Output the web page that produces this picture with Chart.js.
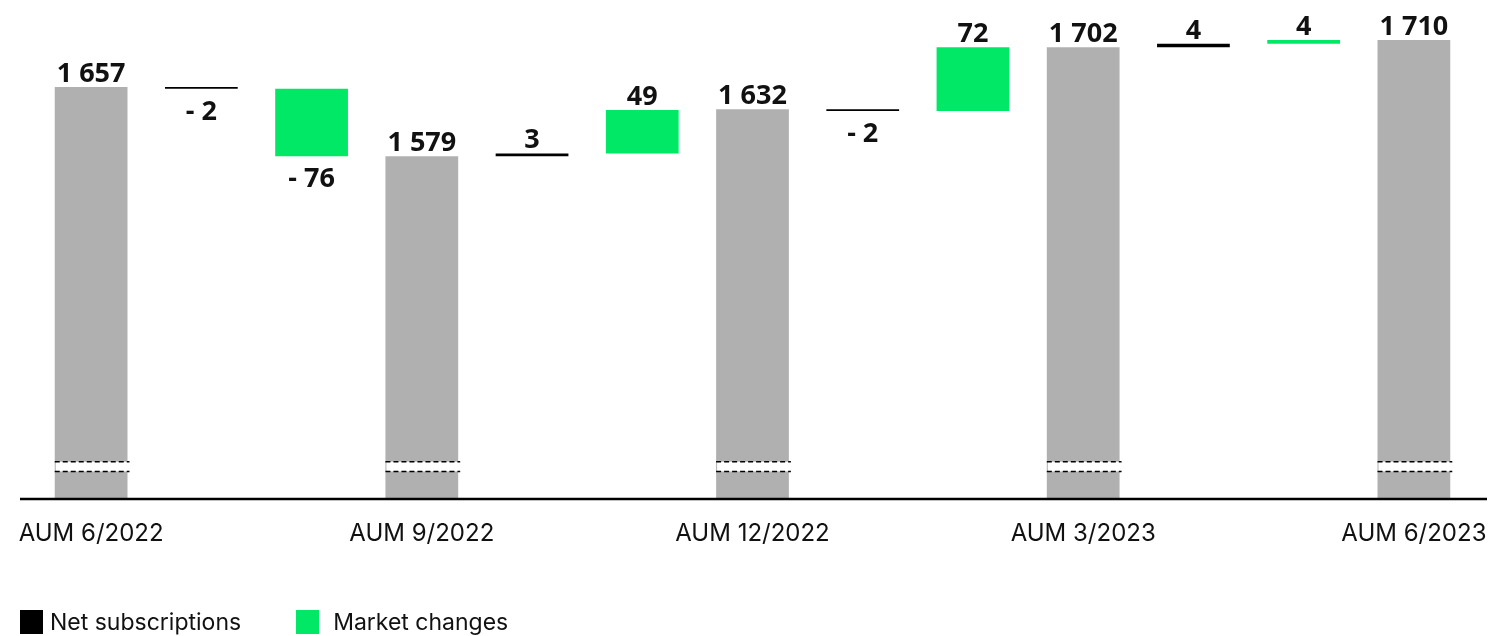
<!DOCTYPE html>
<html>
<head>
<meta charset="utf-8">
<script src="https://cdn.jsdelivr.net/npm/chart.js@4.4.1/dist/chart.umd.min.js"></script>
<style>
  html, body { margin: 0; padding: 0; background: #fff; }
  #wrap { position: relative; width: 1494px; height: 636px; }
  .legend { position: absolute; left: 20px; top: 608px; display: flex; font-family: Inter, sans-serif; font-size: 23px; color: #111; }
  .legend span { display: inline-flex; align-items: center; }
  .legend i { display: inline-block; width: 23px; height: 24px; }
</style>
</head>
<body>
<div id="wrap">
  <canvas id="aumChart" width="1494" height="636"></canvas>
  <div class="legend">
    <span style="margin-right:55px"><i style="background:#000;margin-right:7px"></i>Net subscriptions</span>
    <span><i style="background:#00e865;margin-right:14px"></i>Market changes</span>
  </div>
</div>
<script>
const categories = [
  'AUM 6/2022', 'Net subscriptions', 'Market changes',
  'AUM 9/2022', 'Net subscriptions', 'Market changes',
  'AUM 12/2022', 'Net subscriptions', 'Market changes',
  'AUM 3/2023', 'Net subscriptions', 'Market changes',
  'AUM 6/2023'
];
const aum = [1657, null, null, 1579, null, null, 1632, null, null, 1702, null, null, 1710];
const netSubs = [null, -2, null, null, 3, null, null, -2, null, null, 4, null, null];
const marketChanges = [null, null, -76, null, null, 49, null, null, 72, null, null, 4, null];

const yMin = 1193;
const yMax = 1744;
const breakValues = [1223, 1234];

const GRAY = '#b0b0b0';
const GREEN = '#00e865';

// running total for the floating bars
let running = 0;
const subBars = [];
const mktBars = [];
categories.forEach((c, i) => {
  if (aum[i] !== null) running = aum[i];
  if (netSubs[i] !== null) {
    subBars.push([running, running + netSubs[i]]);
    running += netSubs[i];
  } else subBars.push(null);
  if (marketChanges[i] !== null) {
    mktBars.push([running, running + marketChanges[i]]);
    running += marketChanges[i];
  } else mktBars.push(null);
});

function fmt(n) {
  const s = Math.abs(n).toString().replace(/\B(?=(\d{3})+(?!\d))/g, ' ');
  return n < 0 ? '- ' + s : s;
}

const valueLabels = {
  id: 'valueLabels',
  afterDatasetsDraw(chart) {
    const ctx = chart.ctx;
    ctx.save();
    ctx.font = 'bold 27px "Open Sans", sans-serif';
    ctx.fillStyle = '#111';
    ctx.textAlign = 'center';
    ctx.textBaseline = 'alphabetic';
    const sources = [aum, netSubs, marketChanges];
    chart.data.datasets.forEach((ds, di) => {
      const meta = chart.getDatasetMeta(di);
      meta.data.forEach((bar, i) => {
        const v = sources[di][i];
        if (v === null || v === undefined) return;
        const top = Math.min(bar.y, bar.base);
        const bottom = Math.max(bar.y, bar.base);
        if (di === 0 || v >= 0) {
          ctx.fillText(fmt(v), bar.x, top - 5);
        } else {
          ctx.fillText(fmt(v), bar.x, bottom + 31);
        }
      });
    });
    ctx.restore();
  }
};

const axisBreak = {
  id: 'axisBreak',
  afterDatasetsDraw(chart) {
    const ctx = chart.ctx;
    const y = chart.scales.y;
    const y1 = y.getPixelForValue(breakValues[1]);
    const y2 = y.getPixelForValue(breakValues[0]);
    const meta = chart.getDatasetMeta(0);
    ctx.save();
    meta.data.forEach((bar, i) => {
      if (aum[i] === null) return;
      const left = bar.x - bar.width / 2;
      const right = bar.x + bar.width / 2 + 2;
      ctx.fillStyle = '#fff';
      ctx.fillRect(left + 1, y1, right - left - 1, y2 - y1);
      ctx.strokeStyle = '#000';
      ctx.lineWidth = 1.5;
      ctx.setLineDash([5, 3]);
      [y1, y2].forEach(py => {
        ctx.beginPath();
        ctx.moveTo(left, py);
        ctx.lineTo(right, py);
        ctx.stroke();
      });
    });
    ctx.restore();
  }
};

const baseline = {
  id: 'baseline',
  afterDraw(chart) {
    const ctx = chart.ctx;
    const a = chart.chartArea;
    ctx.save();
    ctx.strokeStyle = '#000';
    ctx.lineWidth = 2.5;
    ctx.beginPath();
    ctx.moveTo(a.left - 16, a.bottom + 1);
    ctx.lineTo(a.right + 18, a.bottom + 1);
    ctx.stroke();
    ctx.restore();
  }
};

const config = {
  type: 'bar',
  data: {
    labels: categories,
    datasets: [
      { label: 'AUM', data: aum, backgroundColor: GRAY, grouped: false },
      { label: 'Net subscriptions', data: subBars, backgroundColor: '#000', grouped: false },
      { label: 'Market changes', data: mktBars, backgroundColor: GREEN, grouped: false }
    ]
  },
  options: {
    responsive: false,
    animation: false,
    categoryPercentage: 1,
    barPercentage: 0.66,
    layout: { padding: { left: 36, right: 25, top: 10, bottom: 0 } },
    plugins: {
      legend: { display: false },
      tooltip: { enabled: false }
    },
    scales: {
      x: {
        grid: { display: false, drawTicks: false },
        border: { display: false },
        ticks: {
          autoSkip: false,
          maxRotation: 0,
          padding: 21,
          color: '#111',
          font: { family: 'Inter', size: 24 },
          callback: function (val) {
            const l = this.getLabelForValue(val);
            return l.startsWith('AUM') ? l : '';
          }
        },
        afterFit: scale => {
          scale.height = 138;
          scale.paddingLeft = 0;
          scale.paddingRight = 0;
        }
      },
      y: {
        display: false,
        min: yMin,
        max: yMax
      }
    }
  },
  plugins: [axisBreak, valueLabels, baseline]
};

const aumChart = new Chart(document.getElementById('aumChart'), config);
</script>
</body>
</html>
